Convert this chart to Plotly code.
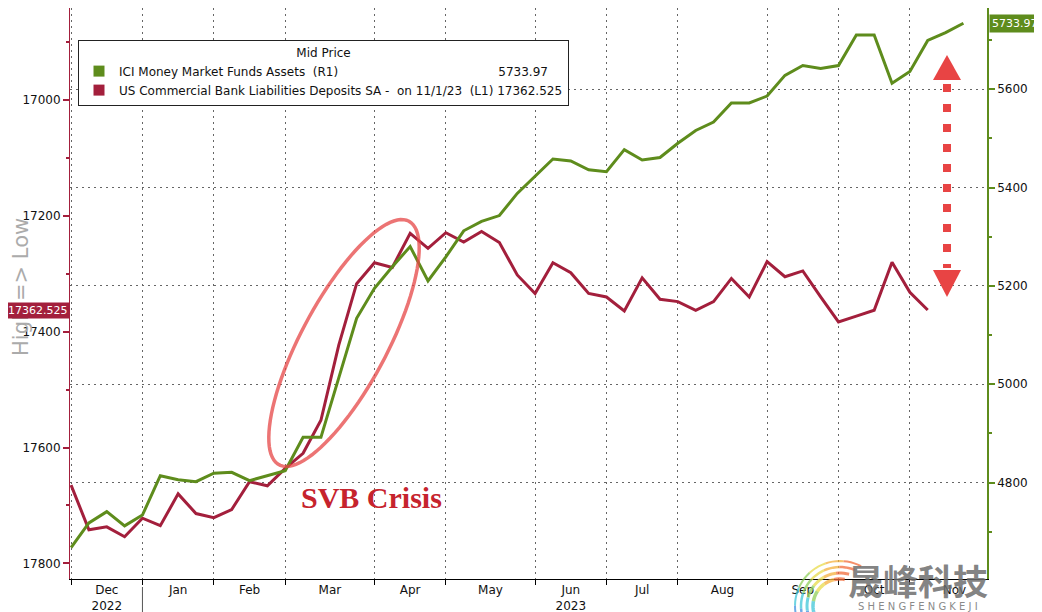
import numpy as np
import pandas as pd
import plotly.graph_objects as go

# weekly observations (Wednesdays), starting 30 Nov 2022
start_week = "2022-11-30"

# ICI money market funds assets, $bn (right axis)
mmf_assets = [4668, 4718, 4741, 4712, 4734, 4814, 4806, 4802, 4819, 4821,
              4804, 4814, 4824, 4892, 4892, 5013, 5134, 5195, 5239, 5280,
              5210, 5259, 5312, 5331, 5343, 5388, 5422, 5458, 5454, 5436,
              5432, 5477, 5456, 5461, 5490, 5516, 5533, 5572, 5572, 5586,
              5628, 5648, 5642, 5648, 5710, 5710, 5612, 5636, 5699, 5715,
              5733.97]

# US commercial bank deposits SA, $bn (left axis, inverted)
bank_deposits = [17665, 17742, 17737, 17754, 17722, 17735, 17680, 17714, 17721, 17707,
                 17659, 17666, 17636, 17610, 17553, 17423, 17317, 17281, 17289, 17230,
                 17256, 17229, 17245, 17227, 17246, 17302, 17334, 17281, 17298, 17334,
                 17340, 17364, 17307, 17344, 17348, 17363, 17348, 17308, 17340, 17279,
                 17305, 17295, 17340, 17383, 17373, 17363, 17280, 17332, 17362.525]

# month boundaries on the weekly axis, and their labels
month_edges = ["2022-11-30", "2022-12-28", "2023-01-25", "2023-02-22", "2023-03-29",
               "2023-04-26", "2023-05-31", "2023-06-28", "2023-07-26", "2023-08-30",
               "2023-09-27", "2023-10-25", "2023-11-29"]
month_labels = ["Dec<br>2022", "Jan", "Feb", "Mar", "Apr", "May", "Jun<br>2023",
                "Jul", "Aug", "Sep", "Oct", "Nov"]

left_ticks = [17000, 17200, 17400, 17600, 17800]
right_ticks = [4800, 5000, 5200, 5400, 5600]

GREEN = "#5e8c1c"
RED = "#a31f3c"
ARROW = "#e84444"
FONT = "DejaVu Sans"

weeks = pd.date_range(start_week, periods=len(mmf_assets), freq="7D")
edges = pd.to_datetime(month_edges)
mids = edges[:-1] + (edges[1:] - edges[:-1]) / 2


# page pixel -> paper helpers for the decorations
# (page body has an 8px margin; plot area sits at 70..987 x 8..579)
def px(x):
    return (x - 70) / 917


def py(y):
    return 1 - (y - 8) / 571


def pix_path(points, close=False):
    s = "M " + " L ".join(f"{px(x):.5f},{py(y):.5f}" for x, y in points)
    return s + (" Z" if close else "")


fig = go.Figure()

fig.add_trace(go.Scatter(x=weeks, y=mmf_assets, yaxis="y2", mode="lines",
                         line=dict(color=GREEN, width=3), showlegend=False,
                         name="ICI Money Market Funds Assets"))
fig.add_trace(go.Scatter(x=weeks[:len(bank_deposits)], y=bank_deposits, mode="lines",
                         line=dict(color=RED, width=3), showlegend=False,
                         name="US Commercial Bank Liabilities Deposits SA"))

# legend entries with square swatches
pad = "\u00a0"
fig.add_trace(go.Scatter(x=[None], y=[None], mode="markers",
                         marker=dict(symbol="square", size=11, color=GREEN),
                         name="ICI Money Market Funds Assets" + pad * 2 + "(R1)" + pad * 42 + "5733.97"))
fig.add_trace(go.Scatter(x=[None], y=[None], mode="markers",
                         marker=dict(symbol="square", size=11, color=RED),
                         name="US Commercial Bank Liabilities Deposits SA -" + pad * 2 + "on 11/1/23"
                              + pad * 2 + "(L1) 17362.525"))

# circled crisis region
t = np.linspace(0, 2 * np.pi, 100)
th = np.arctan2(-240, 128)
ex = 344 + 138 * np.cos(t) * np.cos(th) - 43 * np.sin(t) * np.sin(th)
ey = 343 + 138 * np.cos(t) * np.sin(th) + 43 * np.sin(t) * np.cos(th)
shapes = [dict(type="path", xref="paper", yref="paper", path=pix_path(zip(ex, ey), True),
               line=dict(color="rgba(230,70,70,0.75)", width=3.5))]

# double-headed dotted arrow
shapes.append(dict(type="line", xref="paper", yref="paper", x0=px(947), x1=px(947),
                   y0=py(84), y1=py(268), line=dict(color=ARROW, width=8, dash="8px,12px")))
shapes.append(dict(type="path", xref="paper", yref="paper",
                   path=pix_path([(947, 55), (961, 80), (933, 80)], True),
                   fillcolor=ARROW, line=dict(width=0)))
shapes.append(dict(type="path", xref="paper", yref="paper",
                   path=pix_path([(947, 297), (961, 270), (933, 270)], True),
                   fillcolor=ARROW, line=dict(width=0)))

# year separator under the date axis
shapes.append(dict(type="line", xref="x", yref="paper", x0=edges[1], x1=edges[1],
                   y0=py(587), y1=py(612), line=dict(color="#555", width=1)))

# watermark swirl: arcs fading orange -> yellow -> green -> cyan -> blue
swirl_colors = ["#f26b3a", "#f5b13d", "#e9dc4a", "#8fd05a", "#3fc6d8", "#3f8fe0"]
for i in range(4):
    r = 27 + i * 6
    a0, a1 = 80 - i * 6, 215 - i * 4
    for j, c in enumerate(swirl_colors):
        phi = np.radians(np.linspace(a0 + (a1 - a0) * j / 6, a0 + (a1 - a0) * (j + 1) / 6, 6))
        pts = zip(840 + r * np.cos(phi), 606 - r * np.sin(phi))
        shapes.append(dict(type="path", xref="paper", yref="paper", path=pix_path(pts),
                           line=dict(color=c, width=3.5 - i * 0.5), opacity=0.75))

annotations = [
    dict(xref="paper", yref="paper", x=px(21), y=py(287), xanchor="center", yanchor="middle",
         text="High => Low", textangle=-90, showarrow=False,
         font=dict(family=FONT, size=21, color="#ababab")),
    dict(xref="paper", yref="y", x=0, y=bank_deposits[-1], xanchor="right", text="17362.525",
         showarrow=False, bgcolor=RED, borderpad=1, font=dict(family=FONT, size=11, color="white")),
    dict(xref="paper", yref="y2", x=1, y=mmf_assets[-1], xanchor="left", xshift=2, text="5733.97",
         showarrow=False, bgcolor=GREEN, borderpad=2, font=dict(family=FONT, size=11, color="white")),
    dict(xref="paper", yref="paper", x=px(371), y=py(497), xanchor="center", yanchor="middle",
         text="<b>SVB Crisis</b>", showarrow=False,
         font=dict(family="Liberation Serif", size=30, color="#c6232d")),
    dict(xref="paper", yref="paper", x=px(918), y=py(579), xanchor="center", yanchor="middle",
         text="<b>晟峰科技</b>", showarrow=False,
         font=dict(family="Noto Sans CJK SC", size=35, color="rgba(110,110,110,0.85)")),
    dict(xref="paper", yref="paper", x=px(918), y=py(606), xanchor="center", yanchor="middle",
         text=" ".join("SHENGFENGKEJI"), showarrow=False,
         font=dict(family=FONT, size=10, color="#8a8a8a")),
]

fig.update_layout(
    width=1034, height=604,
    margin=dict(l=62, r=55, t=0, b=33),
    plot_bgcolor="white", paper_bgcolor="white",
    font=dict(family=FONT, size=12, color="#111"),
    showlegend=True,
    legend=dict(x=px(78), y=py(40), xanchor="left", yanchor="top",
                bgcolor="white", bordercolor="#222", borderwidth=1,
                font=dict(family=FONT, size=12, color="#111"),
                title=dict(text="Mid Price", side="top center", font=dict(family=FONT, size=12)),
                tracegroupgap=0),
    xaxis=dict(type="date", range=["2022-11-29 14:00", "2023-11-24 06:00"],
               tickmode="array", tickvals=mids, ticktext=month_labels, ticks="",
               showgrid=False, zeroline=False, showline=True, linecolor="black", linewidth=1,
               minor=dict(tickmode="array", tickvals=edges[:-1], ticks="outside", ticklen=5,
                          tickcolor="black", showgrid=True, gridcolor="#666",
                          griddash="2px,4px", gridwidth=1)),
    yaxis=dict(range=[17827, 16841], tickmode="array", tickvals=left_ticks, tickformat="d",
               ticks="outside", ticklen=6, tickwidth=2, tickcolor=RED,
               showgrid=False, zeroline=False, showline=True, linecolor=RED, linewidth=1,
               minor=dict(tickmode="linear", tick0=17000, dtick=100, ticks="outside",
                          ticklen=3, tickcolor=RED, showgrid=False)),
    yaxis2=dict(overlaying="y", side="right", range=[4604, 5765], tickmode="array",
                tickvals=right_ticks, tickformat="d", ticks="outside", ticklen=6, tickwidth=2,
                tickcolor=GREEN, showgrid=True, gridcolor="#666", griddash="2px,4px", gridwidth=1,
                zeroline=False, showline=True, linecolor=GREEN, linewidth=1.5,
                minor=dict(tickmode="linear", tick0=4800, dtick=100, ticks="outside",
                           ticklen=3, tickcolor=GREEN, showgrid=False)),
    shapes=shapes,
    annotations=annotations,
)

fig.write_html("out.html")
